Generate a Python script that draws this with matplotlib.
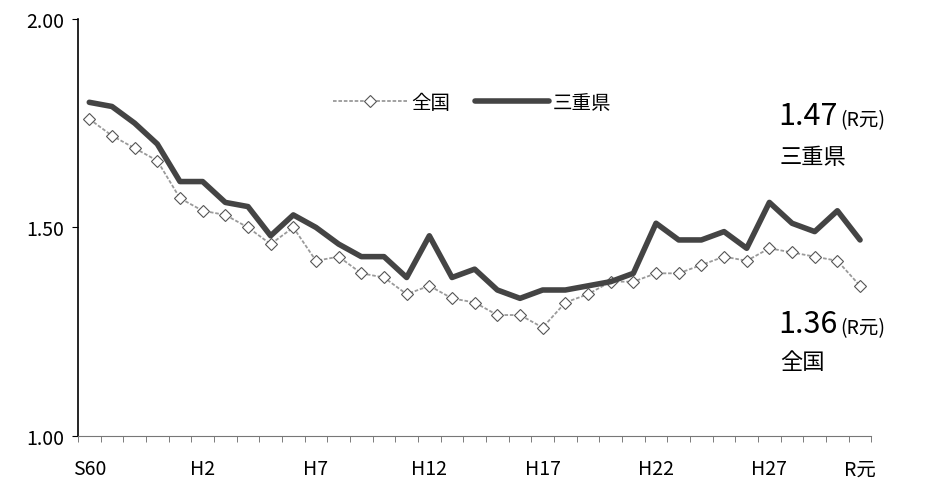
import numpy as np
import matplotlib.pyplot as plt

plt.rcParams['font.family'] = ['Noto Sans CJK JP', 'DejaVu Sans']

years = list(range(1985, 2020))
tick_idx = [0, 5, 10, 15, 20, 25, 30, 34]
tick_labels = ['S60', 'H2', 'H7', 'H12', 'H17', 'H22', 'H27', 'R元']

# 合計特殊出生率
zenkoku = [1.76, 1.72, 1.69, 1.66, 1.57, 1.54, 1.53, 1.50, 1.46, 1.50,
           1.42, 1.43, 1.39, 1.38, 1.34, 1.36, 1.33, 1.32, 1.29, 1.29,
           1.26, 1.32, 1.34, 1.37, 1.37, 1.39, 1.39, 1.41, 1.43, 1.42,
           1.45, 1.44, 1.43, 1.42, 1.36]
mie = [1.80, 1.79, 1.75, 1.70, 1.61, 1.61, 1.56, 1.55, 1.48, 1.53,
       1.50, 1.46, 1.43, 1.43, 1.38, 1.48, 1.38, 1.40, 1.35, 1.33,
       1.35, 1.35, 1.36, 1.37, 1.39, 1.51, 1.47, 1.47, 1.49, 1.45,
       1.56, 1.51, 1.49, 1.54, 1.47]

fig = plt.figure(figsize=(9.28, 4.85), dpi=100)
ax = fig.add_axes([0.084, 0.099, 0.855, 0.86])

x = np.arange(len(years))
ax.plot(x, zenkoku, color='#9a9a9a', lw=1.3, ls=(0, (2, 1)), marker='D', ms=6,
        mfc='white', mec='#555555', mew=0.8, label='全国', zorder=2)
ax.plot(x, mie, color='#444444', lw=4, solid_capstyle='round',
        label='三重県', zorder=3)

ax.set_xlim(-0.5, len(years) - 0.5)
ax.set_ylim(1.0, 2.0)
ax.set_yticks([1.0, 1.5, 2.0])
ax.set_yticklabels(['1.00', '1.50', '2.00'], fontsize=14)
ax.set_xticks(tick_idx)
ax.set_xticklabels(tick_labels, fontsize=14)
ax.set_xticks(np.arange(-0.5, len(years)), minor=True)
ax.tick_params(axis='x', which='major', length=0, pad=16)
ax.tick_params(axis='x', which='minor', length=4, color='#666666', width=0.6)
ax.tick_params(axis='y', length=4, width=0.8, pad=6)

for s in ['top', 'right']:
    ax.spines[s].set_visible(False)
ax.spines['left'].set_linewidth(1.2)
ax.spines['bottom'].set_color('#777777')
ax.spines['bottom'].set_linewidth(0.8)

ax.legend(loc='center', bbox_to_anchor=(0.497, 0.80), ncol=2, frameon=False,
          fontsize=14, handlelength=3.8, handletextpad=0.2, columnspacing=1.3)

ax.annotate('1.47', xy=(778, 368), xycoords='figure pixels', fontsize=22,
            va='center', ha='left')
ax.annotate('(R元)', xy=(840, 364), xycoords='figure pixels', fontsize=14,
            va='center', ha='left')
ax.annotate('三重県', xy=(780, 327), xycoords='figure pixels', fontsize=16,
            va='center', ha='left')
ax.annotate('1.36', xy=(778, 160), xycoords='figure pixels', fontsize=22,
            va='center', ha='left')
ax.annotate('(R元)', xy=(840, 156), xycoords='figure pixels', fontsize=14,
            va='center', ha='left')
ax.annotate('全国', xy=(780, 122), xycoords='figure pixels', fontsize=16,
            va='center', ha='left')

fig.savefig('out.png', dpi=100)
